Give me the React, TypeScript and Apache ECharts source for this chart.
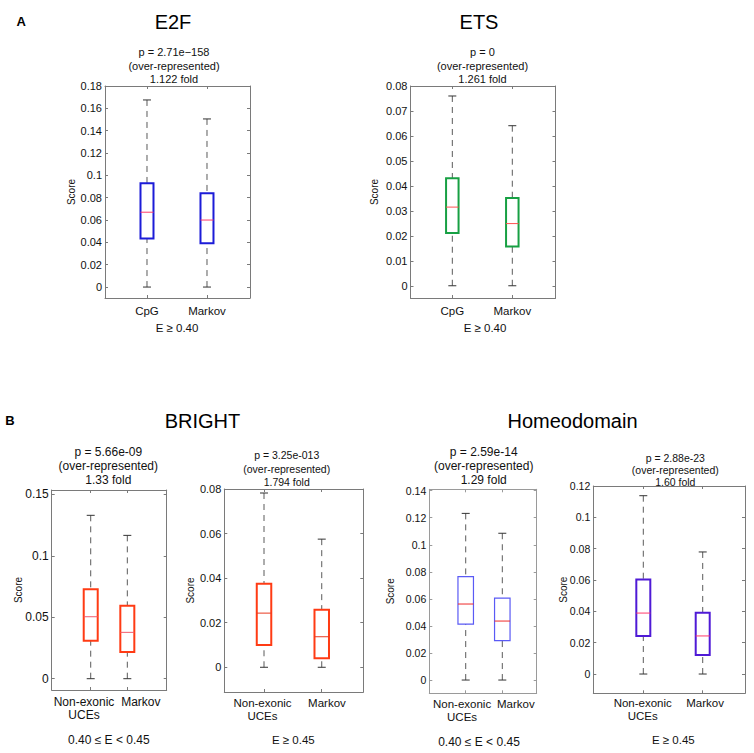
import React, { useEffect, useRef } from "react";
import * as echarts from "echarts";

const FONT = '"Liberation Sans", Arial, Helvetica, sans-serif';

// ---------- data: [lower whisker, Q1, median, Q3, upper whisker] ----------
const categoriesA = ["CpG", "Markov"];
const categoriesB = ["Non-exonic\nUCEs", "Markov"];

const e2fCpG = [0, 0.0435, 0.067, 0.093, 0.1675];
const e2fMarkov = [0, 0.0393, 0.06, 0.084, 0.1505];
const etsCpG = [0, 0.0211, 0.0315, 0.0431, 0.076];
const etsMarkov = [0, 0.0157, 0.0249, 0.0351, 0.0641];
const brightMidUCE = [0, 0.0309, 0.0504, 0.0727, 0.1329];
const brightMidMarkov = [0, 0.0217, 0.0377, 0.0594, 0.1166];
const brightHighUCE = [0, 0.01, 0.0243, 0.0375, 0.0782];
const brightHighMarkov = [0, 0.004, 0.0137, 0.0258, 0.0575];
const homeoMidUCE = [0, 0.0414, 0.0562, 0.0764, 0.1232];
const homeoMidMarkov = [0, 0.0291, 0.0436, 0.0606, 0.1085];
const homeoHighUCE = [0, 0.0243, 0.0389, 0.0604, 0.1138];
const homeoHighMarkov = [0, 0.0121, 0.0243, 0.0391, 0.0779];

// tick labels
const ticksE2F = [0, 0.02, 0.04, 0.06, 0.08, 0.1, 0.12, 0.14, 0.16, 0.18];
const ticksETS = [0, 0.01, 0.02, 0.03, 0.04, 0.05, 0.06, 0.07, 0.08];
const ticksBrightMid = [0, 0.05, 0.1, 0.15];
const ticksBrightHigh = [0, 0.02, 0.04, 0.06, 0.08];
const ticksHomeoMid = [0, 0.02, 0.04, 0.06, 0.08, 0.1, 0.12, 0.14];
const ticksHomeoHigh = [0, 0.02, 0.04, 0.06, 0.08, 0.1, 0.12];

// texts
const panelLetters = ["A", "B"];
const familyTitles = ["E2F", "ETS", "BRIGHT", "Homeodomain"];
const statTexts = [
  "p = 2.71e\u2212158\n(over-represented)\n1.122 fold",
  "p = 0\n(over-represented)\n1.261 fold",
  "p = 5.66e-09\n(over-represented)\n1.33 fold",
  "p = 3.25e-013\n(over-represented)\n1.794 fold",
  "p = 2.59e-14\n(over-represented)\n1.29 fold",
  "p = 2.88e-23\n(over-represented)\n1.60 fold",
];
const conditionTexts = [
  "E \u2265 0.40",
  "E \u2265 0.40",
  "0.40 \u2264 E < 0.45",
  "E \u2265 0.45",
  "0.40 \u2264 E < 0.45",
  "E \u2265 0.45",
];

// ---------- layout / style per panel ----------
const panels = [
  {
    grid: { left: 105, top: 86, width: 145, height: 212 },
    x: [0.3, 2.717], y: [-0.0098, 0.18], ticks: ticksE2F,
    cats: categoriesA, boxes: [e2fCpG, e2fMarkov], labelPos: [1, 2],
    color: "#1c1cd8", median: "#ff3a6a", lw: 2, boxW: 13,
    tickFont: 11, catFont: 11.5, nameGap: 28.3, labelMargin: 6,
    stat: { x: 174, y: 65.7, font: 11, lh: 13.5 },
    cond: { x: 177, y: 328, font: 11.5 },
    border: "#7a7a7a",
  },
  {
    grid: { left: 410.5, top: 86, width: 145, height: 212 },
    x: [0.303, 2.72], y: [-0.0049, 0.08], ticks: ticksETS,
    cats: categoriesA, boxes: [etsCpG, etsMarkov], labelPos: [1, 2],
    color: "#17a043", median: "#ff5050", lw: 2, boxW: 12.5,
    tickFont: 11, catFont: 11.5, nameGap: 30.7, labelMargin: 6,
    stat: { x: 482.5, y: 65.7, font: 11, lh: 13.5 },
    cond: { x: 485, y: 328, font: 11.5 },
    border: "#7a7a7a",
  },
  {
    grid: { left: 51.7, top: 490, width: 115, height: 200 },
    x: [-0.066, 3.076], y: [-0.0092, 0.1535], ticks: ticksBrightMid,
    cats: categoriesB, boxes: [brightMidUCE, brightMidMarkov], labelPos: [0.817, 2.369],
    color: "#ff3b14", median: "#f25a6a", lw: 2, boxW: 14,
    tickFont: 12, catFont: 12, nameGap: 28.4, labelMargin: 5,
    stat: { x: 108.3, y: 466, font: 12, lh: 14.2 },
    cond: { x: 108.8, y: 740, font: 12 },
    border: "#7a7a7a",
  },
  {
    grid: { left: 224.3, top: 489, width: 139, height: 203 },
    x: [0.312, 2.72], y: [-0.0111, 0.08], ticks: ticksBrightHigh,
    cats: categoriesB, boxes: [brightHighUCE, brightHighMarkov], labelPos: [0.974, 2.09],
    color: "#ff3b14", median: "#e83a20", lw: 2, boxW: 14.5,
    tickFont: 11, catFont: 11.5, nameGap: 29.3, labelMargin: 4,
    stat: { x: 286.7, y: 468.5, font: 10.5, lh: 13.3 },
    cond: { x: 293.3, y: 740, font: 11.5 },
    border: "#7a7a7a",
  },
  {
    grid: { left: 429.3, top: 489.3, width: 107.4, height: 204 },
    x: [0.005, 2.94], y: [-0.0098, 0.141], ticks: ticksHomeoMid,
    cats: categoriesB, boxes: [homeoMidUCE, homeoMidMarkov], labelPos: [0.9, 2.37],
    color: "#5a5af5", median: "#ee2a2a", lw: 1.2, boxW: 15.5,
    tickFont: 10.5, catFont: 11.5, nameGap: 33.6, labelMargin: 4,
    stat: { x: 483.7, y: 466.2, font: 12, lh: 14.2 },
    cond: { x: 479, y: 741.5, font: 12 },
    border: "#9a9a9a",
  },
  {
    grid: { left: 593.3, top: 486, width: 151.7, height: 207.3 },
    x: [0.158, 2.712], y: [-0.0123, 0.12], ticks: ticksHomeoHigh,
    cats: categoriesB, boxes: [homeoHighUCE, homeoHighMarkov], labelPos: [0.99, 2.04],
    color: "#4f1ad6", median: "#ff3a6a", lw: 2, boxW: 14,
    tickFont: 10.5, catFont: 11.5, nameGap: 25, labelMargin: 3,
    stat: { x: 675.3, y: 470, font: 10.5, lh: 11.8 },
    cond: { x: 673.3, y: 740, font: 11.5 },
    border: "#7a7a7a",
  },
];

const titleLayout = [
  { x: 173, y: 21.7 },
  { x: 479, y: 21.7 },
  { x: 202.5, y: 420.7 },
  { x: 572.5, y: 420.7 },
];
const letterLayout = [
  { x: 21.3, y: 21.7 },
  { x: 10, y: 420.7 },
];

function buildOption() {
  const grid: any[] = [];
  const xAxis: any[] = [];
  const yAxis: any[] = [];
  const series: any[] = [];
  const graphic: any[] = [];

  panels.forEach((p, i) => {
    grid.push({ ...p.grid, containLabel: false, show: false });
    const line = { show: true, onZero: false, lineStyle: { color: p.border, width: 1 } };
    const tick = { show: true, inside: true, length: 3, lineStyle: { color: p.border } };
    // bottom x
    xAxis.push({
      type: "value", gridIndex: i, position: "bottom", min: p.x[0], max: p.x[1],
      axisLine: line, splitLine: { show: false },
      axisTick: { ...tick, customValues: [1, 2] },
      axisLabel: {
        show: true, customValues: p.labelPos, margin: p.labelMargin,
        showMinLabel: true, showMaxLabel: true, hideOverlap: false,
        fontFamily: FONT, fontSize: p.catFont, color: "#111", lineHeight: 13.3,
        formatter: (v: number) => (v < 1.5 ? p.cats[0] : p.cats[1]),
      },
    });
    // top x (ticks only)
    xAxis.push({
      type: "value", gridIndex: i, position: "top", min: p.x[0], max: p.x[1],
      axisLine: line, splitLine: { show: false },
      axisTick: { ...tick, customValues: [1, 2] },
      axisLabel: { show: false },
    });
    // left y
    yAxis.push({
      type: "value", gridIndex: i, position: "left", min: p.y[0], max: p.y[1],
      axisLine: line, splitLine: { show: false },
      axisTick: { ...tick, customValues: p.ticks },
      axisLabel: {
        show: true, customValues: p.ticks, margin: 3,
        showMinLabel: true, showMaxLabel: true,
        fontFamily: FONT, fontSize: p.tickFont, color: "#111",
        formatter: (v: number) => String(v),
      },
      name: "Score", nameLocation: "middle", nameGap: p.nameGap, nameMoveOverlap: false,
      nameTextStyle: { fontFamily: FONT, fontSize: 10, color: "#111" },
    });
    // right y (ticks only)
    yAxis.push({
      type: "value", gridIndex: i, position: "right", min: p.y[0], max: p.y[1],
      axisLine: line, splitLine: { show: false },
      axisTick: { ...tick, customValues: p.ticks },
      axisLabel: { show: false },
    });

    const data = p.boxes.map((b, k) => [k + 1, ...b]);
    series.push({
      type: "custom",
      xAxisIndex: 2 * i,
      yAxisIndex: 2 * i,
      encode: { x: 0, y: [1, 2, 3, 4, 5] },
      data,
      renderItem: (_params: any, api: any) => {
        const xv = api.value(0);
        const lo = api.coord([xv, api.value(1)]);
        const q1 = api.coord([xv, api.value(2)]);
        const md = api.coord([xv, api.value(3)]);
        const q3 = api.coord([xv, api.value(4)]);
        const hi = api.coord([xv, api.value(5)]);
        const cx = lo[0];
        const hw = p.boxW / 2;
        const cw = 4;
        const dash = { stroke: "#5a5a5a", lineWidth: 1, lineDash: [6, 5] };
        const cap = { stroke: "#333", lineWidth: 1 };
        return {
          type: "group",
          children: [
            { type: "line", shape: { x1: cx, y1: hi[1], x2: cx, y2: q3[1] }, style: dash },
            { type: "line", shape: { x1: cx, y1: lo[1], x2: cx, y2: q1[1] }, style: dash },
            { type: "line", shape: { x1: cx - cw, y1: hi[1], x2: cx + cw, y2: hi[1] }, style: cap },
            { type: "line", shape: { x1: cx - cw, y1: lo[1], x2: cx + cw, y2: lo[1] }, style: cap },
            {
              type: "rect",
              shape: { x: cx - hw, y: q3[1], width: 2 * hw, height: q1[1] - q3[1] },
              style: { fill: "#fff", stroke: p.color, lineWidth: p.lw },
            },
            {
              type: "line",
              shape: { x1: cx - hw, y1: md[1], x2: cx + hw, y2: md[1] },
              style: { stroke: p.median, lineWidth: 1 },
            },
          ],
        };
      },
    });

    graphic.push({
      type: "text", x: p.stat.x, y: p.stat.y, silent: true,
      style: {
        text: statTexts[i], fill: "#111", align: "center", verticalAlign: "middle",
        font: `${p.stat.font}px ${FONT}`, lineHeight: p.stat.lh,
      },
    });
    graphic.push({
      type: "text", x: p.cond.x, y: p.cond.y, silent: true,
      style: {
        text: conditionTexts[i], fill: "#111", align: "center", verticalAlign: "middle",
        font: `${p.cond.font}px ${FONT}`,
      },
    });
  });

  familyTitles.forEach((t, i) => {
    graphic.push({
      type: "text", x: titleLayout[i].x, y: titleLayout[i].y, silent: true,
      style: { text: t, fill: "#000", align: "center", verticalAlign: "middle", font: `20px ${FONT}` },
    });
  });
  panelLetters.forEach((t, i) => {
    graphic.push({
      type: "text", x: letterLayout[i].x, y: letterLayout[i].y, silent: true,
      style: { text: t, fill: "#000", align: "center", verticalAlign: "middle", font: `bold 13px ${FONT}` },
    });
  });

  return {
    animation: false,
    backgroundColor: "#ffffff",
    grid, xAxis, yAxis, series, graphic,
  };
}

export default function App() {
  const ref = useRef<HTMLDivElement>(null);
  useEffect(() => {
    if (!ref.current) return;
    const chart = echarts.init(ref.current, undefined, { renderer: "svg" });
    chart.setOption(buildOption() as any);
    return () => chart.dispose();
  }, []);
  return (
    <div
      ref={ref}
      style={{ position: "absolute", left: 0, top: 0, width: 754, height: 753, background: "#fff" }}
    />
  );
}
